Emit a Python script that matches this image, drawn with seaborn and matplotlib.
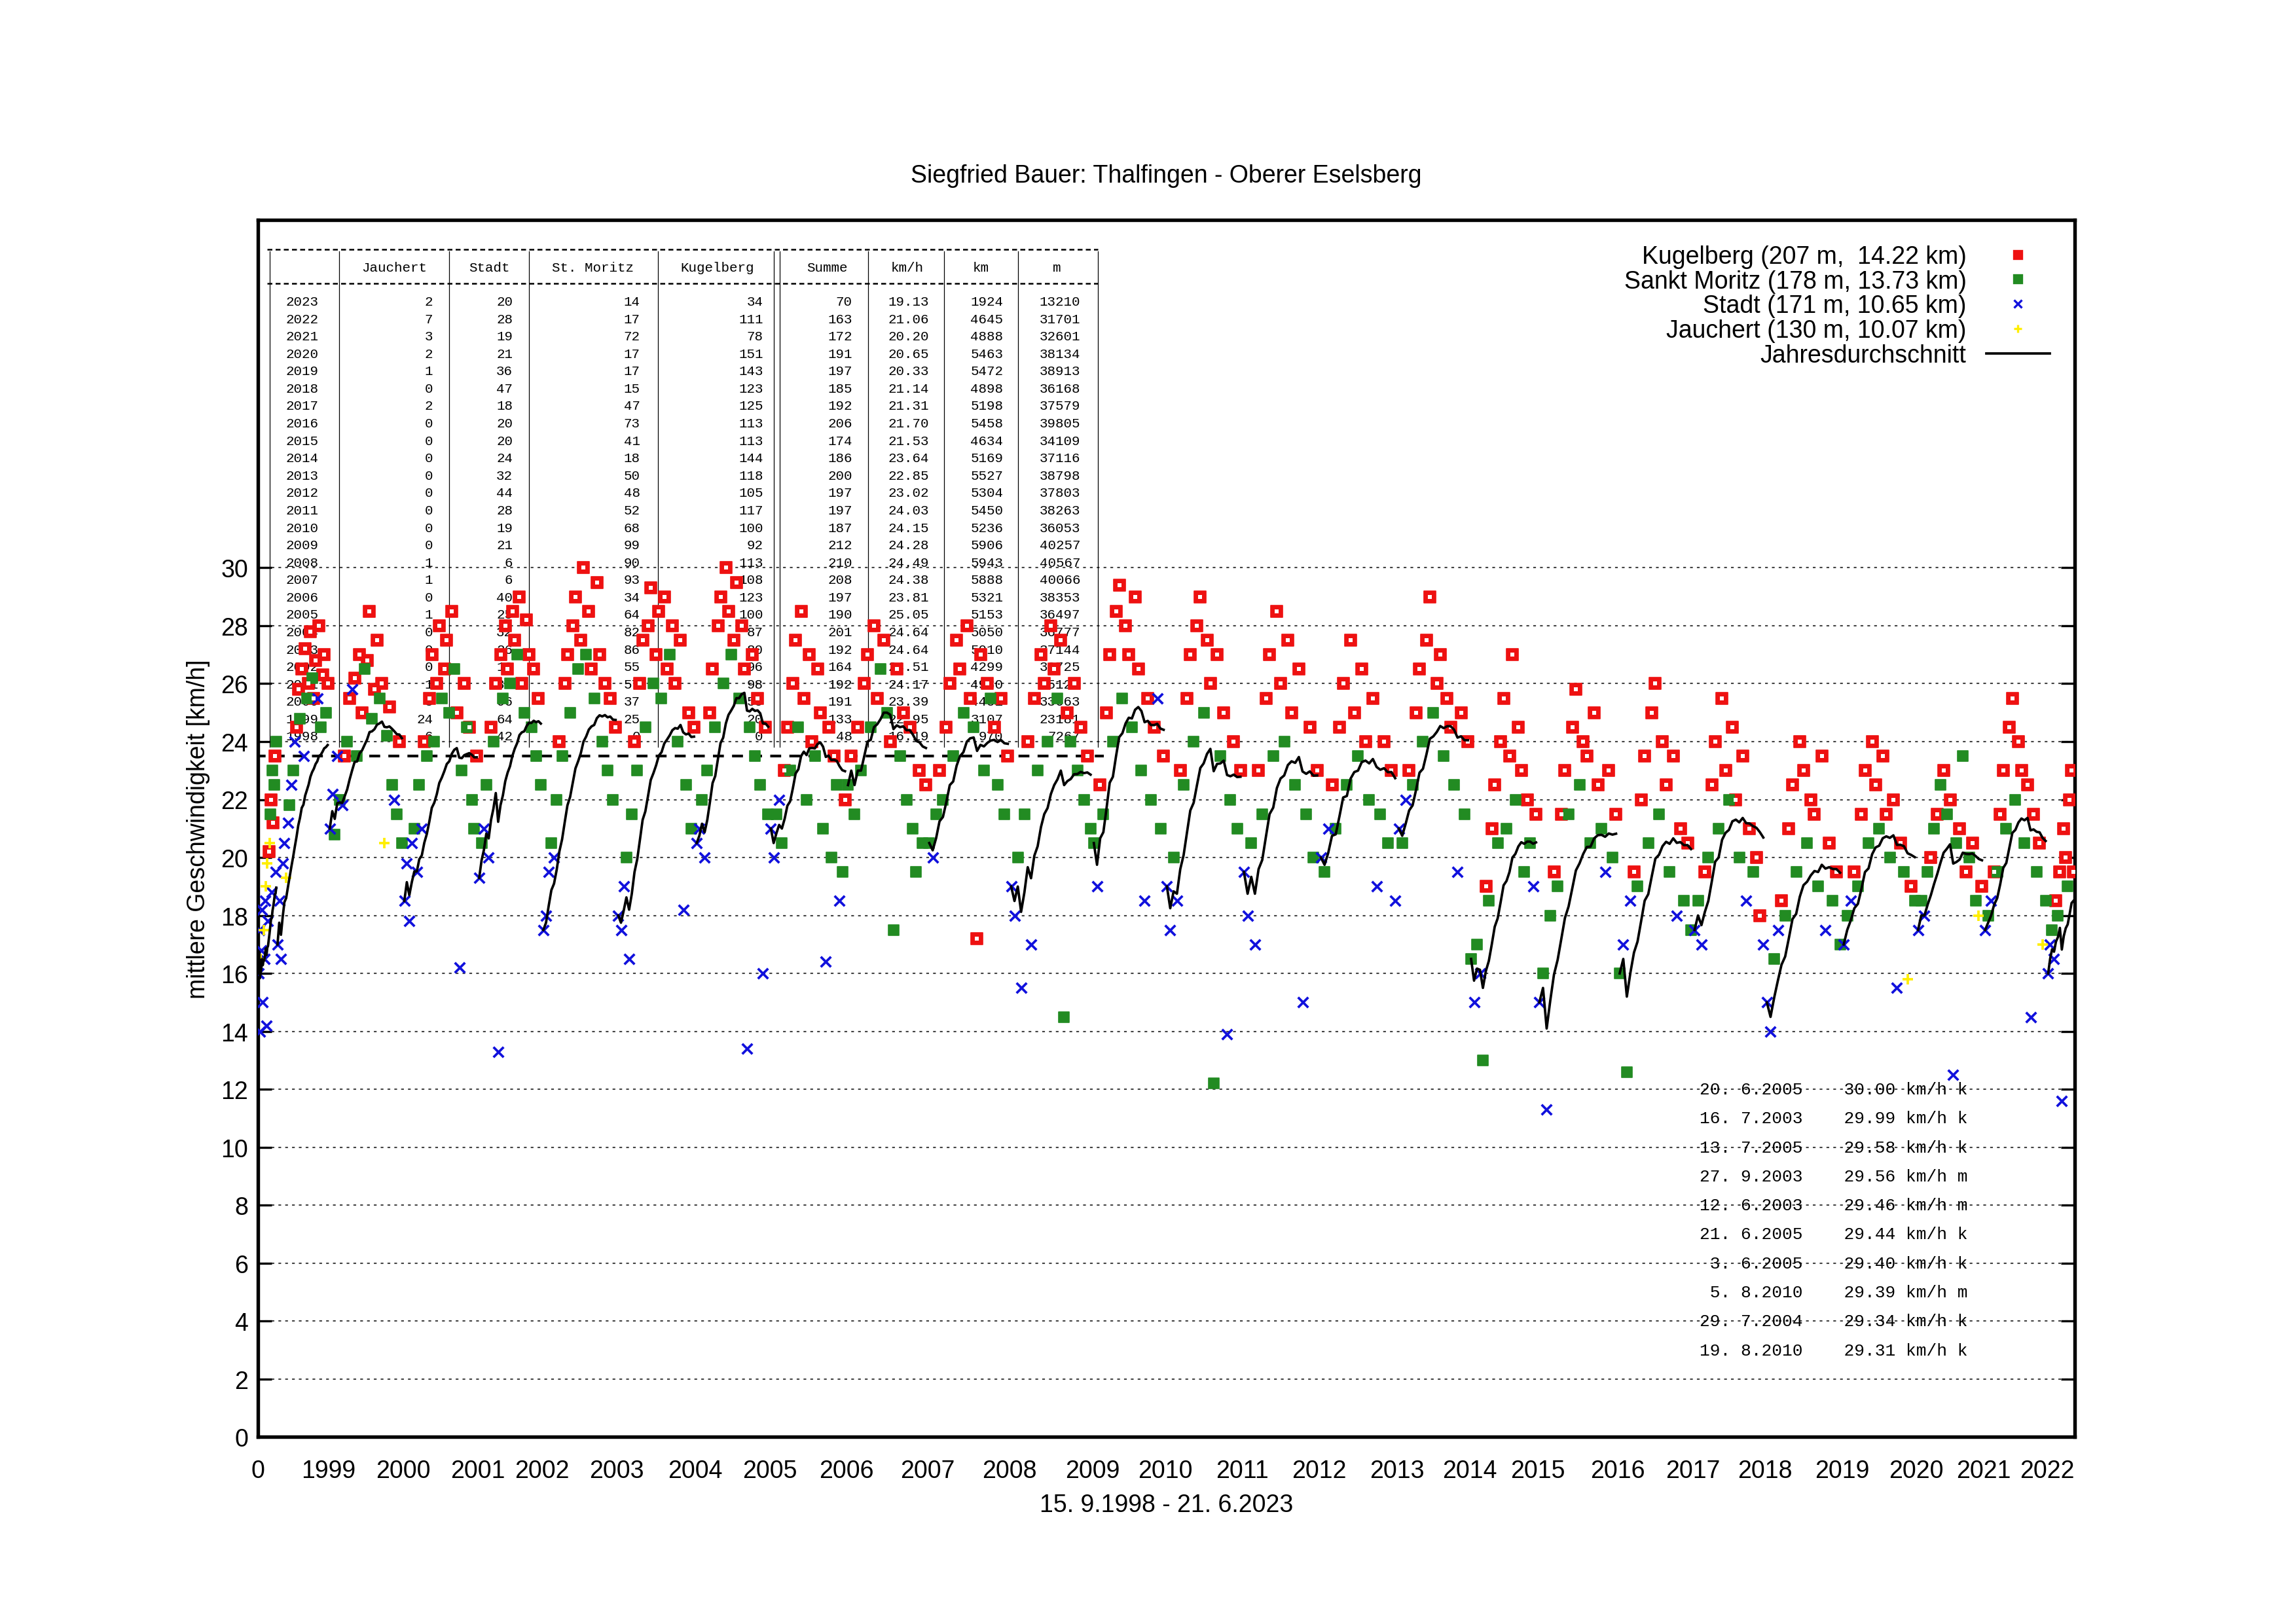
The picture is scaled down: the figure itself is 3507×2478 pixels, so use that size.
import numpy as np
import pandas as pd
import matplotlib
matplotlib.use('Agg')
import matplotlib.pyplot as plt
import matplotlib.transforms as mtrans
from matplotlib.lines import Line2D
import seaborn as sns

years = list(range(1998, 2024))
# yearly table columns
jauchert = [6, 24, 3, 1, 0, 0, 0, 1, 0, 1, 1, 0, 0, 0, 0, 0, 0, 0, 0, 2, 0, 1, 2, 3, 7, 2]
stadt = [42, 64, 96, 36, 13, 26, 32, 25, 40, 6, 6, 21, 19, 28, 44, 32, 24, 20, 20, 18, 47, 36, 21, 19, 28, 20]
moritz = [0, 25, 37, 57, 55, 86, 82, 64, 34, 93, 90, 99, 68, 52, 48, 50, 18, 41, 73, 47, 15, 17, 17, 72, 17, 14]
kugel = [0, 20, 55, 98, 96, 80, 87, 100, 123, 108, 113, 92, 100, 117, 105, 118, 144, 113, 113, 125, 123, 143, 151, 78, 111, 34]
summe = [48, 133, 191, 192, 164, 192, 201, 190, 197, 208, 210, 212, 187, 197, 197, 200, 186, 174, 206, 192, 185, 197, 191, 172, 163, 70]
kmh = [16.19, 22.95, 23.39, 24.17, 24.51, 24.64, 24.64, 25.05, 23.81, 24.38, 24.49, 24.28, 24.15, 24.03, 23.02, 22.85, 23.64, 21.53, 21.70, 21.31, 21.14, 20.33, 20.65, 20.20, 21.06, 19.13]
km = [970, 3107, 4451, 4930, 4299, 5010, 5050, 5153, 5321, 5888, 5943, 5906, 5236, 5450, 5304, 5527, 5169, 4634, 5458, 5198, 4898, 5472, 5463, 4888, 4645, 1924]
hm = [7267, 23181, 33663, 35123, 30725, 37144, 36777, 36497, 38353, 40066, 40567, 40257, 36053, 38263, 37803, 38798, 37116, 34109, 39805, 37579, 36168, 38913, 38134, 32601, 31701, 13210]

# sampled rides per year in order: route letter + average speed (km/h)
rides = {
    1998: "s16.0 s17.5 s14.0 j16.5 s16.8 s18.2 s15.0 j17.5 s16.5 s18.5 j19.0 s14.2 j19.8 s17.8 k20.2 j20.5 m21.5 k22.0 s18.8 m23.0 k21.2 m22.5 k23.5 s19.5 m24.0",
    1999: "s17.0 s18.5 s16.5 s19.8 s20.5 j19.3 s21.2 m21.8 s22.5 m23.0 s24.0 k24.5 k25.8 m24.8 k26.5 s23.5 k27.2 m25.5 k26.0 k27.8 m26.2 k25.5 k26.8 s25.5 k28.0 m24.5 k26.3 k27.0 m25.0 k26.0",
    2000: "s21.0 s22.2 m20.8 s23.5 m22.0 s21.8 k23.5 m24.0 k25.5 s25.8 k26.2 m23.5 k27.0 k25.0 m26.5 k26.8 k28.5 m24.8 k25.8 k27.5 m25.5 k26.0 j20.5 m24.2 k25.2 m22.5 s22.0 m21.5 k24.0 m20.5",
    2001: "s18.5 s19.8 s17.8 s20.5 m21.0 s19.5 m22.5 s21.0 k24.0 m23.5 k25.5 k27.0 m24.0 k26.0 k28.0 m25.5 k26.5 k27.5 m25.0 k28.5 m26.5 k25.0 s16.2 m23.0 k26.0 m24.5 k24.5 m22.0 m21.0 k23.5",
    2002: "s19.3 m20.5 s21.0 m22.5 s20.0 k24.5 m24.0 k26.0 s13.3 k27.0 m25.5 k28.0 k26.5 m26.0 k28.5 k27.5 m27.0 k29.0 k26.0 m25.0 k28.2 k27.0 m24.5 k26.5 m23.5 k25.5 m22.5",
    2003: "s17.5 s18.0 s19.5 m20.5 s20.0 m22.0 k24.0 m23.5 k26.0 k27.0 m25.0 k28.0 k29.0 m26.5 k27.5 k30.0 m27.0 k28.5 k26.5 m25.5 k29.5 k27.0 m24.0 k26.0 m23.0 k25.5 m22.0 k24.5",
    2004: "s18.0 s17.5 s19.0 m20.0 s16.5 m21.5 k24.0 m23.0 k26.0 k27.5 m24.5 k28.0 k29.3 m26.0 k27.0 k28.5 m25.5 k29.0 k26.5 m27.0 k28.0 k26.0 m24.0 k27.5 s18.2 m22.5 k25.0 m21.0 k24.5",
    2005: "s20.5 s21.0 m22.0 s20.0 m23.0 k25.0 k26.5 m24.5 k28.0 k29.0 m26.0 k30.0 k28.5 m27.0 k27.5 k29.5 m25.5 k28.0 k26.5 s13.4 m24.5 k27.0 m23.5 k25.5 m22.5 s16.0 k24.5 m21.5",
    2006: "s21.0 s20.0 m21.5 s22.0 m20.5 k23.0 k24.5 m23.0 k26.0 k27.5 m24.5 k28.5 k25.5 m22.0 k27.0 k24.0 m23.5 k26.5 k25.0 m21.0 s16.4 k24.5 m20.0 k23.5 m22.5 s18.5 m19.5 k22.0",
    2007: "m22.5 k23.5 m21.5 k24.5 m23.0 k26.0 k27.0 m24.5 k28.0 k25.5 m26.5 k27.5 m25.0 k24.0 m17.5 k26.5 m23.5 k25.0 m22.0 k24.5 m21.0 m19.5 k23.0 m20.5 k22.5",
    2008: "m20.5 s20.0 m21.5 k23.0 m22.0 k24.5 k26.0 m23.5 k27.5 k26.5 m25.0 k28.0 k25.5 m24.5 k17.2 k27.0 m23.0 k26.0 m25.5 k24.5 m22.5 k25.5 m21.5 k23.5",
    2009: "s19.0 s18.0 m20.0 s15.5 m21.5 k24.0 s17.0 k25.5 m23.0 k27.0 k26.0 m24.0 k28.0 k26.5 m25.5 k27.5 m14.5 k25.0 m24.0 k26.0 m23.0 k24.5 m22.0 k23.5 m21.0",
    2010: "m20.5 s19.0 k22.5 m21.5 k25.0 k27.0 m24.0 k28.5 k29.4 m25.5 k28.0 k27.0 m24.5 k29.0 k26.5 m23.0 s18.5 k25.5 m22.0 k24.5 s25.5 m21.0 k23.5",
    2011: "s19.0 s17.5 m20.0 s18.5 k23.0 m22.5 k25.5 k27.0 m24.0 k28.0 k29.0 m25.0 k27.5 k26.0 m12.2 k27.0 m23.5 k25.0 s13.9 m22.0 k24.0 m21.0 k23.0",
    2012: "s19.5 s18.0 m20.5 s17.0 k23.0 m21.5 k25.5 k27.0 m23.5 k28.5 k26.0 m24.0 k27.5 k25.0 m22.5 k26.5 s15.0 m21.5 k24.5 m20.0 k23.0",
    2013: "s20.0 m19.5 s21.0 k22.5 m21.0 k24.5 k26.0 m22.5 k27.5 k25.0 m23.5 k26.5 k24.0 m22.0 k25.5 s19.0 m21.5 k24.0 m20.5 k23.0 s18.5",
    2014: "s21.0 m20.5 s22.0 k23.0 m22.5 k25.0 k26.5 m24.0 k27.5 k29.0 m25.0 k26.0 k27.0 m23.5 k25.5 k24.5 m22.5 s19.5 k25.0 m21.5 k24.0",
    2015: "m16.5 s15.0 m17.0 s16.0 m13.0 k19.0 m18.5 k21.0 k22.5 m20.5 k24.0 k25.5 m21.0 k23.5 k27.0 m22.0 k24.5 k23.0 m19.5 k22.0 m20.5 s19.0 k21.5",
    2016: "s15.0 m16.0 s11.3 m18.0 k19.5 m19.0 k21.5 k23.0 m21.5 k24.5 k25.8 m22.5 k24.0 k23.5 m20.5 k25.0 k22.5 m21.0 s19.5 k23.0 m20.0 k21.5",
    2017: "m16.0 s17.0 m12.6 s18.5 k19.5 m19.0 k22.0 k23.5 m20.5 k25.0 k26.0 m21.5 k24.0 k22.5 m19.5 k23.5 s18.0 k21.0 m18.5 k20.5 m17.5",
    2018: "s17.5 m18.5 s17.0 k19.5 m20.0 k22.5 k24.0 m21.0 k25.5 k23.0 m22.0 k24.5 k22.0 m20.0 k23.5 s18.5 k21.0 m19.5 k20.0 k18.0 s17.0",
    2019: "s15.0 s14.0 m16.5 s17.5 k18.5 m18.0 k21.0 k22.5 m19.5 k24.0 k23.0 m20.5 k22.0 k21.5 m19.0 k23.5 s17.5 k20.5 m18.5 k19.5 m17.0",
    2020: "s17.0 m18.0 s18.5 k19.5 m19.0 k21.5 k23.0 m20.5 k24.0 k22.5 m21.0 k23.5 k21.5 m20.0 k22.0 s15.5 k20.5 m19.5 j15.8 k19.0 m18.5",
    2021: "s17.5 m18.5 s18.0 m19.5 k20.0 m21.0 k21.5 m22.5 k23.0 m21.5 k22.0 s12.5 m20.5 k21.0 m23.5 k19.5 m20.0 k20.5 m18.5 j18.0 k19.0",
    2022: "s17.5 m18.0 s18.5 k19.5 m19.5 k21.5 k23.0 m21.0 k24.5 k25.5 m22.0 k24.0 k23.0 m20.5 k22.5 s14.5 k21.5 m19.5 k20.5 j17.0 m18.5",
    2023: "s16.0 s17.0 m17.5 s16.5 k18.5 m18.0 k19.5 s11.6 k21.0 k20.0 m19.0 k22.0 k23.0 k19.5",
}

records = [
    ("20. 6.2005", "30.00", "k"), ("16. 7.2003", "29.99", "k"),
    ("13. 7.2005", "29.58", "k"), ("27. 9.2003", "29.56", "m"),
    ("12. 6.2003", "29.46", "m"), ("21. 6.2005", "29.44", "k"),
    (" 3. 6.2005", "29.40", "k"), (" 5. 8.2010", "29.39", "m"),
    ("29. 7.2004", "29.34", "k"), ("19. 8.2010", "29.31", "k"),
]

routes = {
    'k': ('Kugelberg (207 m,  14.22 km)', '#ee1111', 's'),
    'm': ('Sankt Moritz (178 m, 13.73 km)', '#228b22', 's'),
    's': ('Stadt (171 m, 10.65 km)', '#1111dd', 'x'),
    'j': ('Jauchert (130 m, 10.07 km)', '#ffee00', '+'),
}


def build_frame():
    rows = []
    start = 0
    for y, n in zip(years, summe):
        toks = rides[y].split()
        for i, t in enumerate(toks):
            rows.append({'year': y, 'route': t[0], 'v': float(t[1:]),
                         'x': start + (i + 0.5) * n / len(toks)})
        start += n
    df = pd.DataFrame(rows)
    df['avg'] = df.groupby('year')['v'].transform(lambda s: s.expanding().mean())
    return df


def main():
    df = build_frame()
    total = sum(summe)
    plt.rcParams['font.family'] = ['Liberation Sans', 'DejaVu Sans']
    fig = plt.figure(figsize=(11.693, 8.263), dpi=300)
    ax = fig.add_axes([0.1123, 0.114, 0.791, 0.750])

    for key in ['k', 'm', 's', 'j']:
        label, color, mk = routes[key]
        sub = df[df['route'] == key]
        if key == 'k':
            sns.scatterplot(data=sub, x='x', y='v', ax=ax, color=color, marker='s',
                            s=20, edgecolor=color, linewidth=0.4, legend=False, zorder=3)
            sns.scatterplot(data=sub, x='x', y='v', ax=ax, color='white', marker='s',
                            s=2, linewidth=0, legend=False, zorder=4)
        elif mk == 's':
            sns.scatterplot(data=sub, x='x', y='v', ax=ax, color=color, marker='s',
                            s=16, edgecolor=color, linewidth=0.4, legend=False, zorder=3)
        else:
            sns.scatterplot(data=sub, x='x', y='v', ax=ax, color=color, marker=mk,
                            s=14, linewidth=0.9, legend=False, zorder=3)
    sns.lineplot(data=df, x='x', y='avg', units='year', estimator=None, ax=ax,
                 color='black', linewidth=0.9, legend=False, zorder=5)

    ax.set_xlim(0, total)
    ax.set_ylim(0, 42)
    ax.set_yticks(range(0, 31, 2))
    for v in range(2, 31, 2):
        ax.axhline(v, color='#444444', linestyle=(0, (2, 3)), linewidth=0.5, zorder=0)
    ends = np.cumsum(summe)
    ax.set_xticks([0] + list(ends[1:-1]))
    ax.set_xticklabels(['0'] + [str(y) for y in years[1:-1]])
    ax.tick_params(axis='both', labelsize=9, direction='in', length=5, width=0.8,
                   right=True, top=False)
    ax.tick_params(axis='x', length=0, pad=8)
    for sp in ax.spines.values():
        sp.set_linewidth(1.3)
    ax.set_xlabel('15. 9.1998 - 21. 6.2023', fontsize=9)
    ax.set_ylabel('mittlere Geschwindigkeit [km/h]', fontsize=9)
    ax.set_title('Siegfried Bauer: Thalfingen - Oberer Eselsberg', fontsize=9, pad=14)

    handles = []
    for key in ['k', 'm', 's', 'j']:
        label, color, mk = routes[key]
        handles.append(Line2D([], [], linestyle='none', marker=mk, color=color,
                              markersize=3, markeredgewidth=0.8, label=label))
    handles.append(Line2D([], [], color='black', linewidth=0.9, label='Jahresdurchschnitt'))
    ax.legend(handles=handles, loc='upper right', frameon=False, markerfirst=False,
              fontsize=9, handlelength=2.6, labelspacing=0.05, borderaxespad=0.6,
              handletextpad=0.8)

    # yearly table in the upper left corner
    def fx(px):
        return (px - 174) / 1226

    def fy(py):
        return (971 - py) / 822

    mono = dict(family='Liberation Mono', fontsize=5, transform=ax.transAxes,
                va='center', zorder=2)
    dash = dict(transform=ax.transAxes, color='black', linewidth=0.6, linestyle=(0, (3, 2)))
    ax.plot([fx(180), fx(741)], [fy(169), fy(169)], **dash)
    ax.plot([fx(180), fx(741)], [fy(192), fy(192)], **dash)
    ax.plot([fx(172), fx(745)], [fy(511), fy(511)], color='black', linewidth=1.0,
            linestyle=(0, (4, 3)), transform=ax.transAxes)
    for px in [182, 229, 303, 357, 444, 522, 526, 586, 637, 687, 741]:
        ax.plot([fx(px), fx(px)], [fy(170), fy(505)], color='black', linewidth=0.3,
                transform=ax.transAxes)
    heads = [('Jauchert', 266), ('Stadt', 330), ('St. Moritz', 400), ('Kugelberg', 484),
             ('Summe', 558), ('km/h', 612), ('km', 662), ('m', 713)]
    for txt, px in heads:
        ax.text(fx(px), fy(181), txt, ha='center', **mono)
    right = [292, 346, 432, 515, 575, 627, 677, 729]
    for i, y in enumerate(years[::-1]):
        j = len(years) - 1 - i
        py = 204 + i * 11.75
        ax.text(fx(193), fy(py), str(y), ha='left', **mono)
        vals = [jauchert[j], stadt[j], moritz[j], kugel[j], summe[j],
                f'{kmh[j]:.2f}', km[j], hm[j]]
        for v, px in zip(vals, right):
            ax.text(fx(px), fy(py), str(v), ha='right', **mono)

    # fastest rides, one per grid line from 12 down to 3
    tr = mtrans.blended_transform_factory(ax.transAxes, ax.transData)
    for i, (d, s, r) in enumerate(records):
        ax.text(fx(1147), 12 - i, f'{d}    {s} km/h {r}', family='Liberation Mono',
                fontsize=6.3, va='center', ha='left', transform=tr)

    fig.savefig('out.png', dpi=300)


if __name__ == '__main__':
    main()
